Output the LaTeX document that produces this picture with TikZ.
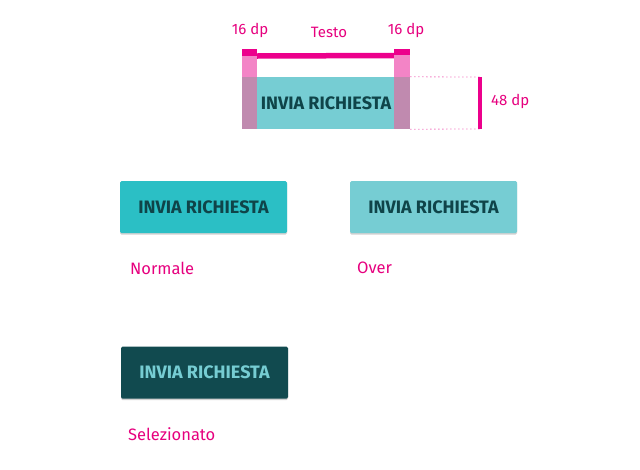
\documentclass[tikz,border=0pt]{standalone}
\usepackage{fontspec}
\setmainfont{Fira Sans}
\usetikzlibrary{positioning,shadows,calc}

\definecolor{magenta}{HTML}{E6007E}
\definecolor{barpink}{HTML}{EC008C}
\definecolor{lightpink}{HTML}{F384C6}
\definecolor{mauve}{HTML}{C08AAF}
\definecolor{tealover}{HTML}{76CDD3}
\definecolor{tealnorm}{HTML}{2BBFC5}
\definecolor{tealdark}{HTML}{114A4F}
\definecolor{textdark}{HTML}{0F4449}

\begin{document}
\begin{tikzpicture}[
    x=1pt, y=-1pt,
    button/.style={rectangle, rounded corners=1.5pt, minimum width=167pt, minimum height=52pt,
        inner sep=0pt, font=\fontsize{18}{18}\selectfont\bfseries, text=textdark,
        drop shadow={shadow xshift=0pt, shadow yshift=-1.5pt, opacity=0.3, fill=black!60}},
    state/.style={font=\fontsize{16.5}{17}\selectfont, text=magenta, anchor=west, inner sep=0pt},
    dim/.style={font=\fontsize{15}{16}\selectfont, text=magenta, inner sep=0pt},
    bar/.style={barpink, line width=5pt}
]
\useasboundingbox (0,0) rectangle (640,469);

% Schema delle misure
\node[rectangle, fill=tealover, minimum width=168pt, minimum height=52pt, inner sep=0pt] (spec) at (326,103) {};
\fill[lightpink] (spec.north west) ++(0,-28) rectangle ++(15,28);
\fill[lightpink] (spec.north east) ++(-16,-28) rectangle ++(16,28);
\fill[mauve] (spec.north west) rectangle ($(spec.south west)+(15,0)$);
\fill[mauve] ($(spec.north east)+(-16,0)$) rectangle (spec.south east);
\node[rectangle, fill=barpink, minimum width=15pt, minimum height=7pt, inner sep=0pt,
      anchor=north west] (capl) at ($(spec.north west)+(0,-28)$) {};
\node[rectangle, fill=barpink, minimum width=16pt, minimum height=6pt, inner sep=0pt,
      anchor=north east] (capr) at ($(spec.north east)+(0,-28)$) {};
\draw[bar, line width=5.5pt] ($(capl.east)+(0,3.5)$) -- ($(capr.west)+(0,3.5)$);
\node[text=textdark, font=\fontsize{18}{18}\selectfont\bfseries] at (spec) {INVIA RICHIESTA};

% Altezza
\coordinate (htop) at (480,77);
\coordinate (hbot) at (480,129);
\draw[lightpink, dash pattern=on 1.5pt off 2.5pt, line width=0.8pt] (spec.north east) -- (htop);
\draw[lightpink, dash pattern=on 1.5pt off 2.5pt, line width=0.8pt] (spec.south east) -- (hbot);
\draw[bar, line width=4.5pt] (htop) -- (hbot);

% Etichette
\node[dim] (lbl16l) at (250,30) {16 dp};
\node[dim] (lbltxt) at (329,32) {Testo};
\node[dim] (lbl16r) at (406,30) {16 dp};
\node[dim, anchor=west] (lbl48) at (491,101) {48 dp};

% Stati
\node[button, fill=tealnorm] (normale) at (203.5,207) {INVIA RICHIESTA};
\node[button, fill=tealover] (over) at (433.5,207) {INVIA RICHIESTA};
\node[button, fill=tealdark, text=tealover] (sel) at (204.5,372.5) {INVIA RICHIESTA};

\node[state] (lnormale) at (130,268) {Normale};
\node[state] (lover) at (357,268) {Over};
\node[state] (lsel) at (128,434) {Selezionato};

\end{tikzpicture}
\end{document}
